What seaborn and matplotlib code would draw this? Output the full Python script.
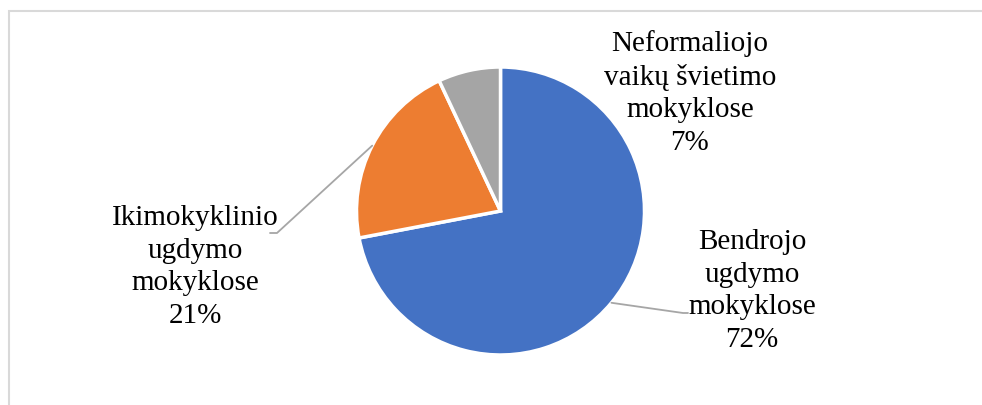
import numpy as np
import matplotlib
matplotlib.use("Agg")
import matplotlib.pyplot as plt
import matplotlib.patches as patches
import seaborn as sns

# Data
categories = ["Bendrojo\nugdymo\nmokyklose",
              "Ikimokyklinio\nugdymo\nmokyklose",
              "Neformaliojo\nvaikų švietimo\nmokyklose"]
shares = [72, 21, 7]
colors = ["#4472C4", "#ED7D31", "#A5A5A5"]

sns.set_theme(style="white")
plt.rcParams['font.family'] = ['Liberation Serif', 'DejaVu Serif']

W, H = 982, 405
fig = plt.figure(figsize=(W / 100, H / 100), dpi=100)
ax = fig.add_axes([0, 0, 1, 1])

# pie center / radius in pixels
cx, cy, rad = 500.5, 211, 144

wedges, _ = ax.pie(shares, colors=colors, startangle=90, counterclock=False,
                   radius=1, center=(0, 0),
                   wedgeprops=dict(edgecolor="white", linewidth=2.5))

ax.set_xlim(-cx / rad, (W - cx) / rad)
ax.set_ylim(-(H - cy) / rad, cy / rad)
ax.set_aspect('auto')
ax.axis('off')

def px(x, y):
    return (x - cx) / rad, (cy - y) / rad

# label positions (pixels) and leader elbows
label_pos = [(752, 291), (195, 267), (690, 93)]
elbows = [[(683, 313), (688, 313)], [(277, 233), (270, 233)], None]

for w, cat, val, lp, el in zip(wedges, categories, shares, label_pos, elbows):
    tx, ty = px(*lp)
    ax.text(tx, ty, f"{cat}\n{val}%", ha="center", va="center",
            fontsize=21, color="black", linespacing=1.32)
    if el is not None:
        mid = np.deg2rad((w.theta1 + w.theta2) / 2)
        xs = [np.cos(mid)] + [px(*p)[0] for p in el]
        ys = [np.sin(mid)] + [px(*p)[1] for p in el]
        ax.plot(xs, ys, color="#A6A6A6", linewidth=1.3)

# chart border
fig.patches.append(patches.Rectangle((9 / W, -0.2), 1.2, 1.2 - 11 / H + 0.0,
                                     transform=fig.transFigure, fill=False,
                                     edgecolor="#D9D9D9", linewidth=1.5))

fig.savefig("out.png", dpi=100, facecolor="white")
